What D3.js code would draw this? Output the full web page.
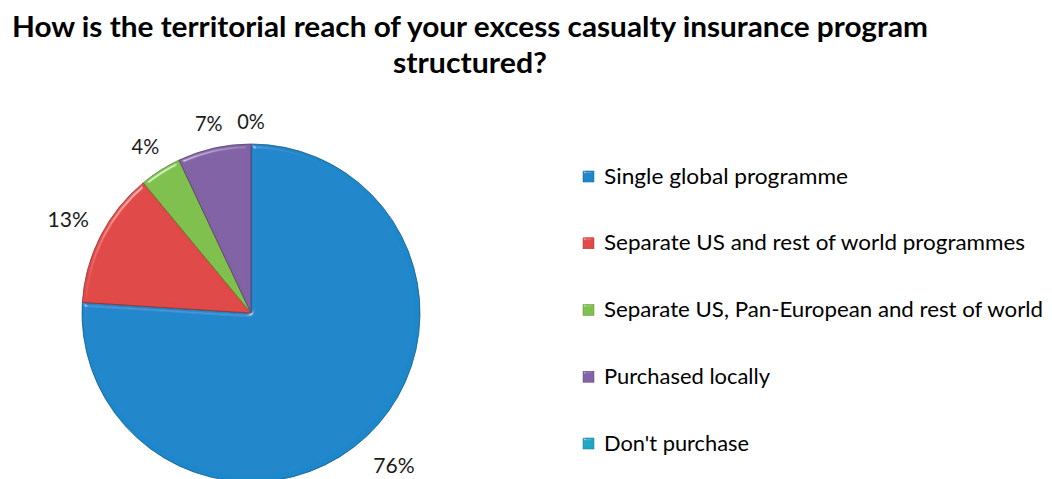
<!DOCTYPE html>
<html>
<head>
<meta charset="utf-8">
<script src="https://cdn.jsdelivr.net/npm/d3@7"></script>
<style>
  html, body { margin: 0; padding: 0; background: #fff; }
  svg { display: block; }
</style>
</head>
<body>
<svg id="chart" width="1052" height="479"></svg>
<script>
// Survey responses (percent of respondents)
const categories = [
  "Single global programme",
  "Separate US and rest of world programmes",
  "Separate US, Pan-European and rest of world",
  "Purchased locally",
  "Don't purchase"
];
const values = [76, 13, 4, 7, 0];
const colors = ["#1e87cb", "#e04a47", "#80c04e", "#8262a5", "#1fa6c2"];
const titleLines = [
  "How is the territorial reach of your excess casualty insurance program",
  "structured?"
];

const svg = d3.select("#chart");
const FONT = "Lato, 'Open Sans', 'DejaVu Sans', sans-serif";

// Soft bevel lighting: highlights only where the blurred edge faces the light
const defs = svg.append("defs");
function bevel(id, blur, scale, amount) {
  const f = defs.append("filter").attr("id", id)
    .attr("x", "-10%").attr("y", "-10%").attr("width", "120%").attr("height", "120%");
  f.append("feGaussianBlur").attr("in", "SourceAlpha").attr("stdDeviation", blur).attr("result", "b");
  const sp = f.append("feSpecularLighting").attr("in", "b")
    .attr("surfaceScale", scale).attr("specularConstant", 1.0)
    .attr("specularExponent", 40).attr("lighting-color", "#ffffff").attr("result", "s");
  sp.append("feDistantLight").attr("azimuth", 235).attr("elevation", 30);
  f.append("feComposite").attr("in", "s").attr("in2", "SourceAlpha").attr("operator", "in").attr("result", "sIn");
  f.append("feComposite").attr("in", "SourceGraphic").attr("in2", "sIn")
    .attr("operator", "arithmetic").attr("k1", 0).attr("k2", 1).attr("k3", amount).attr("k4", 0);
}
bevel("bevelPie", 2, 4, 0.45);
bevel("bevelKey", 1, 2, 0.45);

// Title
const title = svg.append("g").attr("font-family", FONT).attr("font-weight", "bold")
  .attr("font-size", 29).attr("fill", "#000").attr("text-anchor", "middle");
const titleBase = [37, 73];
const titleWidth = [916, 154];
titleLines.forEach((t, i) => {
  title.append("text").attr("x", 470).attr("y", titleBase[i])
    .attr("textLength", titleWidth[i]).attr("lengthAdjust", "spacingAndGlyphs").text(t);
});

// Pie
const cx = 251, cy = 313, r = 169;
const pie = d3.pie().sort(null).value(d => d.value);
const data = categories.map((c, i) => ({ name: c, value: values[i], color: colors[i] }));
const arcs = pie(data);
const arc = d3.arc().innerRadius(0).outerRadius(r);

const g = svg.append("g").attr("transform", `translate(${cx},${cy})`);
g.selectAll("path.slice").data(arcs.filter(a => a.data.value > 0)).join("path")
  .attr("class", "slice")
  .attr("d", arc)
  .attr("fill", d => d.data.color)
  .attr("stroke", d => d3.color(d.data.color).darker(1.2))
  .attr("stroke-width", 0.8)
  .attr("stroke-linejoin", "round")
  .attr("filter", "url(#bevelPie)");

// Percentage labels, placed just outside each slice
const labels = g.append("g").attr("font-family", FONT).attr("font-size", 21).attr("fill", "#1a1a1a");
arcs.forEach(a => {
  const mid = (a.startAngle + a.endAngle) / 2;
  const s = Math.sin(mid), c = -Math.cos(mid);
  const txt = a.data.value + "%";
  const w = txt.length * 13.8, h = 16;
  const dist = r + 14 + Math.abs(s) * w / 2 + Math.abs(c) * h / 2 + Math.max(0, c) * 8;
  labels.append("text")
    .attr("x", s * dist).attr("y", c * dist)
    .attr("text-anchor", "middle").attr("dy", "0.35em")
    .attr("textLength", w).attr("lengthAdjust", "spacingAndGlyphs")
    .text(txt);
});

// Legend
const legendY = d3.scalePoint().domain(categories).range([176, 443]);
const legendWidths = [244, 421, 439, 166, 145];
const legend = svg.append("g").attr("font-family", FONT).attr("font-size", 22).attr("fill", "#000");
data.forEach((d, i) => {
  const y = legendY(d.name);
  legend.append("rect").attr("x", 583).attr("y", y - 5).attr("width", 11).attr("height", 11)
    .attr("fill", d.color).attr("stroke", d3.color(d.color).darker(0.8)).attr("stroke-width", 0.5)
    .attr("filter", "url(#bevelKey)");
  legend.append("text").attr("x", 604).attr("y", y).attr("dy", "0.35em")
    .attr("textLength", legendWidths[i]).attr("lengthAdjust", "spacingAndGlyphs")
    .text(d.name);
});
</script>
</body>
</html>
